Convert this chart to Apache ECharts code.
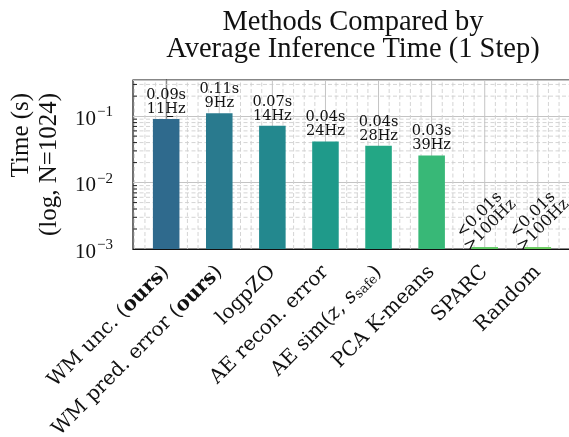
<!DOCTYPE html>
<html>
<head>
<meta charset="utf-8">
<script src="https://cdn.jsdelivr.net/npm/echarts@6/dist/echarts.min.js"></script>
<style>
  html, body { margin: 0; padding: 0; background: #ffffff; }
  #chart { width: 569px; height: 437px; }
</style>
</head>
<body>
<div id="chart"></div>
<script>
// Methods and their rich-text tick labels
const methods = ['WM unc. (ours)', 'WM pred. error (ours)', 'logpZO', 'AE recon. error',
                 'AE sim(z, s_safe)', 'PCA K-means', 'SPARC', 'Random'];
const methodLabels = [
  '{n|WM unc. (}{b|ours}{n|)}',
  '{n|WM pred. error (}{b|ours}{n|)}',
  '{n|logpZO}',
  '{n|AE recon. error}',
  '{n|AE sim(}{i|z}{n|, }{i|s}{sub|safe}{n|)}',
  '{n|PCA K-means}',
  '{n|SPARC}',
  '{n|Random}'
];
// Average inference time per step, seconds (N = 1024)
const timesSec = [0.0909, 0.111, 0.0714, 0.0417, 0.0357, 0.0256, 0.00107, 0.00107];
const barColors = ['#2f6a8d', '#297a8e', '#23888e', '#1f9a8a', '#23a785', '#38b877', '#5ec962', '#68cb5c'];
// Log-axis limits and major decades
const yMin = 0.001, yMax = 0.35;
const yMinorTicks = [0.002, 0.003, 0.004, 0.005, 0.006, 0.007, 0.008, 0.009,
                     0.02, 0.03, 0.04, 0.05, 0.06, 0.07, 0.08, 0.09, 0.2, 0.3];
const xMin = -0.625, xMax = 7.625;
const BAR_HALF = 0.25;

const xMajorTicks = methods.map((_, i) => i);
const xMinorTicks = [];
for (let k = -1; k <= 7; k++) {
  for (const f of [0.2, 0.4, 0.6, 0.8]) {
    const v = +(k + f).toFixed(2);
    if (v > xMin && v < xMax) xMinorTicks.push(v);
  }
}

const SERIF = '"Liberation Serif", "DejaVu Serif", serif';
const WIDE_SERIF = '"DejaVu Serif", serif';

function barLabel(t) {
  if (t < 0.01) return '<0.01s\n>100Hz';
  return t.toFixed(2) + 's\n' + Math.round(1 / t) + 'Hz';
}

const chart = echarts.init(document.getElementById('chart'), null, { renderer: 'canvas' });

const option = {
  backgroundColor: '#ffffff',
  animation: false,
  title: {
    text: 'Methods Compared by\nAverage Inference Time (1 Step)',
    left: 348,
    top: 4,
    textAlign: 'center',
    textStyle: { fontFamily: SERIF, fontSize: 28.5, lineHeight: 27, fontWeight: 'normal', color: '#111' }
  },
  grid: {
    left: 133, right: -2, top: 80, bottom: 188,
    outerBoundsMode: 'none',
    containLabel: false,
    show: true, borderColor: '#111', borderWidth: 1.2, backgroundColor: '#ffffff'
  },
  xAxis: {
    type: 'value',
    min: xMin, max: xMax,
    axisLine: { show: true, lineStyle: { color: '#111', width: 1.2 } },
    axisTick: { show: false },
    splitLine: { show: false },
    axisLabel: {
      customValues: xMajorTicks,
      rotate: 45,
      margin: 20,
      color: '#111',
      formatter: v => methodLabels[Math.round(v)] || '',
      rich: {
        n: { fontFamily: WIDE_SERIF, fontSize: 20, color: '#111' },
        b: { fontFamily: WIDE_SERIF, fontSize: 20, fontWeight: 'bold', color: '#111' },
        i: { fontFamily: WIDE_SERIF, fontSize: 20, fontStyle: 'italic', color: '#111' },
        sub: { fontFamily: WIDE_SERIF, fontSize: 13, fontStyle: 'normal', color: '#111', padding: [8, 0, 0, 0] }
      }
    }
  },
  yAxis: {
    type: 'log',
    logBase: 10,
    min: yMin, max: yMax,
    name: '{a|Time (s)}\n{a|(log, N=1024)}',
    nameLocation: 'middle',
    nameGap: 70,
    nameTextStyle: {
      rich: { a: { fontFamily: SERIF, fontSize: 25, lineHeight: 28, color: '#111', align: 'right' } }
    },
    axisLine: { show: true, lineStyle: { color: '#111', width: 1.2 } },
    axisTick: { show: true, inside: true, length: 7, lineStyle: { color: '#111', width: 1 } },
    splitLine: { show: true, lineStyle: { color: '#c4c4c4', width: 1 } },
    axisLabel: {
      showMaxLabel: false,
      margin: 20,
      formatter: v => '{b|10}{s|\u2212' + Math.round(-Math.log10(v)) + '}',
      rich: {
        b: { fontFamily: SERIF, fontSize: 21, color: '#111', padding: [6, 0, 0, 0] },
        s: { fontFamily: SERIF, fontSize: 15, color: '#111', padding: [0, 0, 8, 1] }
      }
    }
  },
  series: [
    {
      // light grid: dashed minor lines, solid vertical lines at categories, minor ticks
      type: 'custom',
      z: 1,
      silent: true,
      data: [[0, yMin]],
      renderItem: (params, api) => {
        const children = [];
        const gridStroke = { stroke: '#cfcfcf', lineWidth: 0.9, lineDash: [4, 2.5] };
        yMinorTicks.forEach(y => {
          const a = api.coord([xMin, y]), b = api.coord([xMax, y]);
          children.push({ type: 'line', shape: { x1: a[0], y1: a[1], x2: b[0], y2: b[1] }, style: gridStroke });
          children.push({ type: 'line', shape: { x1: a[0], y1: a[1], x2: a[0] + 4, y2: a[1] },
                          style: { stroke: '#111', lineWidth: 0.9 }, z2: 30 });
        });
        xMinorTicks.forEach(x => {
          const a = api.coord([x, yMin]), b = api.coord([x, yMax]);
          children.push({ type: 'line', shape: { x1: a[0], y1: a[1], x2: b[0], y2: b[1] }, style: gridStroke });
        });
        xMajorTicks.forEach(x => {
          const a = api.coord([x, yMin]), b = api.coord([x, yMax]);
          children.push({ type: 'line', shape: { x1: a[0], y1: a[1], x2: b[0], y2: b[1] },
                          style: { stroke: '#c4c4c4', lineWidth: 1 } });
        });
        return { type: 'group', children };
      }
    },
    {
      // bars drawn from the log-axis floor up to each time, with time / rate labels
      type: 'custom',
      z: 3,
      data: timesSec.map((t, i) => [i, t]),
      renderItem: (params, api) => {
        const i = api.value(0), t = api.value(1);
        const tl = api.coord([i - BAR_HALF, t]);
        const br = api.coord([i + BAR_HALF, yMin]);
        const cx = (tl[0] + br[0]) / 2;
        const rect = {
          type: 'rect',
          shape: { x: tl[0], y: tl[1], width: br[0] - tl[0], height: br[1] - tl[1] },
          style: { fill: barColors[i] }
        };
        const small = t < 0.01;
        const label = small ? {
          type: 'text', x: cx, y: tl[1] - 27, rotation: Math.PI / 4,
          style: { text: barLabel(t), fontFamily: WIDE_SERIF, fontSize: 16, lineHeight: 15,
                   align: 'center', verticalAlign: 'middle', fill: '#111' }
        } : {
          type: 'text', x: cx, y: tl[1] - 3,
          style: { text: barLabel(t), fontFamily: WIDE_SERIF, fontSize: 14.5, lineHeight: 14,
                   align: 'center', verticalAlign: 'bottom', fill: '#111' }
        };
        return { type: 'group', children: [rect, label] };
      }
    }
  ]
};

chart.setOption(option);
</script>
</body>
</html>
